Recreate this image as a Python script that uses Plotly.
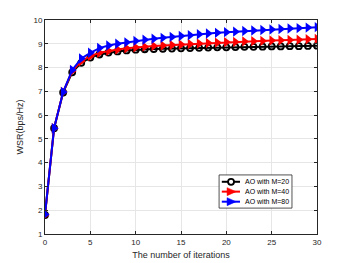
import plotly.graph_objects as go

iterations = list(range(31))
wsr_m20 = [1.8, 5.45, 6.95, 7.8, 8.2, 8.42, 8.55, 8.63, 8.68, 8.72, 8.75, 8.77, 8.78, 8.79, 8.8, 8.81,
           8.82, 8.83, 8.84, 8.85, 8.85, 8.86, 8.87, 8.87, 8.88, 8.89, 8.89, 8.9, 8.9, 8.91, 8.92]
wsr_m40 = [1.8, 5.45, 6.97, 7.85, 8.27, 8.48, 8.62, 8.7, 8.76, 8.81, 8.85, 8.88, 8.91, 8.93, 8.95, 8.97,
           8.99, 9.01, 9.03, 9.05, 9.07, 9.08, 9.1, 9.11, 9.12, 9.14, 9.15, 9.16, 9.17, 9.19, 9.2]
wsr_m80 = [1.82, 5.45, 6.97, 7.9, 8.38, 8.62, 8.82, 8.93, 9.0, 9.06, 9.12, 9.17, 9.21, 9.25, 9.29, 9.33,
           9.36, 9.4, 9.43, 9.46, 9.49, 9.51, 9.54, 9.56, 9.58, 9.6, 9.62, 9.64, 9.66, 9.68, 9.7]
names = ["AO with M=20", "AO with M=40", "AO with M=80"]
colors = ["black", "#ff0000", "#0000ff"]

FONT = "Liberation Sans, Arial, sans-serif"
fig = go.Figure()
fig.add_trace(go.Scatter(x=iterations, y=wsr_m20, name=names[0], mode="lines+markers",
                         line=dict(color=colors[0], width=2),
                         marker=dict(symbol="circle-open", size=6, color=colors[0], line=dict(width=1.8))))
fig.add_trace(go.Scatter(x=iterations, y=wsr_m40, name=names[1], mode="lines+markers",
                         line=dict(color=colors[1], width=2),
                         marker=dict(symbol="triangle-right", size=9, color=colors[1])))
fig.add_trace(go.Scatter(x=iterations, y=wsr_m80, name=names[2], mode="lines+markers",
                         line=dict(color=colors[2], width=2),
                         marker=dict(symbol="triangle-right", size=9, color=colors[2])))

axis_common = dict(showgrid=True, gridcolor="#e6e6e6", gridwidth=1, zeroline=False,
                   showline=True, linecolor="#262626", linewidth=1, mirror="ticks",
                   ticks="inside", ticklen=3, tickcolor="#262626", automargin=False,
                   tickfont=dict(family=FONT, size=8, color="#262626"))
fig.update_xaxes(range=[0, 30], dtick=5,
                 title=dict(text="The number of iterations", font=dict(family=FONT, size=9, color="#262626"), standoff=6),
                 **axis_common)
fig.update_yaxes(range=[1, 10], dtick=1,
                 title=dict(text="WSR(bps/Hz)", font=dict(family=FONT, size=9, color="#262626"), standoff=8),
                 **axis_common)

# compact legend drawn with paper-referenced shapes/annotations (MATLAB style)
shapes = [dict(type="rect", xref="paper", yref="paper", x0=0.640, x1=0.908, y0=0.121, y1=0.276,
               fillcolor="white", line=dict(color="#262626", width=0.8), layer="above")]
annotations = []
row_y = [0.244, 0.198, 0.151]
lx0, lx1, mx, tx = 0.650, 0.717, 0.684, 0.727
for i in range(3):
    shapes.append(dict(type="line", xref="paper", yref="paper", x0=lx0, x1=lx1, y0=row_y[i], y1=row_y[i],
                       line=dict(color=colors[i], width=2), layer="above"))
    if i == 0:
        shapes.append(dict(type="circle", xref="paper", yref="paper", xsizemode="pixel", ysizemode="pixel",
                           xanchor=mx, yanchor=row_y[i], x0=-3, x1=3, y0=-3, y1=3,
                           line=dict(color=colors[i], width=1.8), fillcolor="white", layer="above"))
    else:
        shapes.append(dict(type="path", xref="paper", yref="paper", xsizemode="pixel", ysizemode="pixel",
                           xanchor=mx, yanchor=row_y[i], path="M-4,4 L5,0 L-4,-4 Z",
                           line=dict(color=colors[i], width=0.5), fillcolor=colors[i], layer="above"))
    annotations.append(dict(xref="paper", yref="paper", x=tx, y=row_y[i], xanchor="left", yanchor="middle",
                            text=names[i], showarrow=False, font=dict(family=FONT, size=7, color="black")))

fig.update_layout(width=342, height=255, margin=dict(l=37, r=33, t=12, b=29),
                  plot_bgcolor="white", paper_bgcolor="white",
                  font=dict(family=FONT), showlegend=False,
                  shapes=shapes, annotations=annotations)
fig.write_html("out.html")
